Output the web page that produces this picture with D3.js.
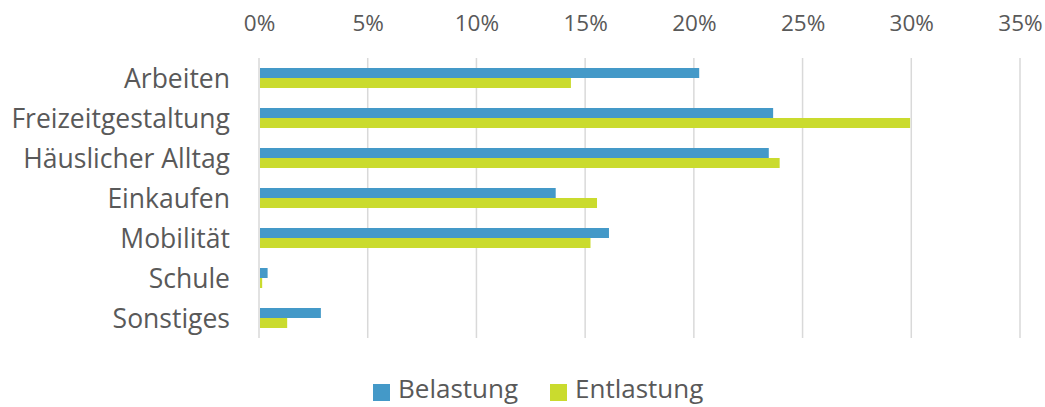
<!DOCTYPE html>
<html>
<head>
<meta charset="utf-8">
<script src="https://cdn.jsdelivr.net/npm/d3@7"></script>
<style>
	body { margin: 0; background: #fff; }
	svg text { font-family: "Open Sans", sans-serif; fill: #595959; }
</style>
</head>
<body>
<svg id="chart" width="1045" height="407"></svg>
<script>
// chart data
let categories = ['Arbeiten', 'Freizeitgestaltung', 'Häuslicher Alltag', 'Einkaufen', 'Mobilität', 'Schule', 'Sonstiges'];
let belastung = [20.2, 23.6, 23.4, 13.6, 16.05, 0.35, 2.8];
let entlastung = [14.3, 29.9, 23.9, 15.5, 15.2, 0.1, 1.25];
let tickValues = [0, 5, 10, 15, 20, 25, 30, 35];
let seriesNames = ['Belastung', 'Entlastung'];
let colors = ['#4499c8', '#cadb2e'];

let margin = { top: 58, right: 25, bottom: 69, left: 259 };
let width = 1045 - margin.left - margin.right;
let height = 407 - margin.top - margin.bottom;

let svg = d3.select('svg#chart').append('g')
	.attr('transform', 'translate(' + margin.left + ',' + margin.top + ')');

let x = d3.scaleLinear([0, 35], [0, 761]);
let y = d3.scaleBand(categories, [0, height]).paddingInner(0.5).paddingOuter(0.25);
let ySub = d3.scaleBand(seriesNames, [0, y.bandwidth()]);

// gridlines
svg.append('g').selectAll('line')
	.data(tickValues)
	.join('line')
	.attr('x1', d => x(d))
	.attr('x2', d => x(d))
	.attr('y1', 0)
	.attr('y2', height)
	.attr('stroke', '#d9d9d9')
	.attr('stroke-width', 1.5);

// top axis labels
let xAxis = svg.append('g')
	.call(d3.axisTop(x).tickValues(tickValues).tickFormat(d => d + '%').tickSize(0).tickPadding(27));
xAxis.select('.domain').remove();
xAxis.selectAll('text').attr('font-size', 22.5).attr('fill', '#595959').attr('font-family', '"Open Sans", sans-serif');

// category labels
let yAxis = svg.append('g')
	.call(d3.axisLeft(y).tickSize(0).tickPadding(29));
yAxis.select('.domain').remove();
yAxis.selectAll('text').attr('font-size', 26.5).attr('dy', '0.38em').attr('fill', '#595959').attr('font-family', '"Open Sans", sans-serif');

// bars
let rows = categories.map((c, i) => ({ cat: c, vals: [belastung[i], entlastung[i]] }));
svg.append('g').selectAll('g')
	.data(rows)
	.join('g')
	.attr('transform', d => 'translate(0,' + y(d.cat) + ')')
	.selectAll('rect')
	.data(d => d.vals.map((v, i) => ({ name: seriesNames[i], value: v, color: colors[i] })))
	.join('rect')
	.attr('x', x(0) + 1)
	.attr('y', d => ySub(d.name))
	.attr('width', d => x(d.value) - x(0))
	.attr('height', ySub.bandwidth())
	.attr('fill', d => d.color);

// legend
let legendPos = [373, 550];
let legend = d3.select('svg#chart').append('g');
let items = legend.selectAll('g')
	.data(seriesNames)
	.join('g')
	.attr('transform', (d, i) => 'translate(' + legendPos[i] + ',384)');
items.append('rect')
	.attr('width', 17)
	.attr('height', 17)
	.attr('fill', (d, i) => colors[i]);
items.append('text')
	.attr('x', 25)
	.attr('y', 8.5)
	.attr('dy', '0.22em')
	.attr('font-size', 26)
	.text(d => d);
</script>
</body>
</html>
